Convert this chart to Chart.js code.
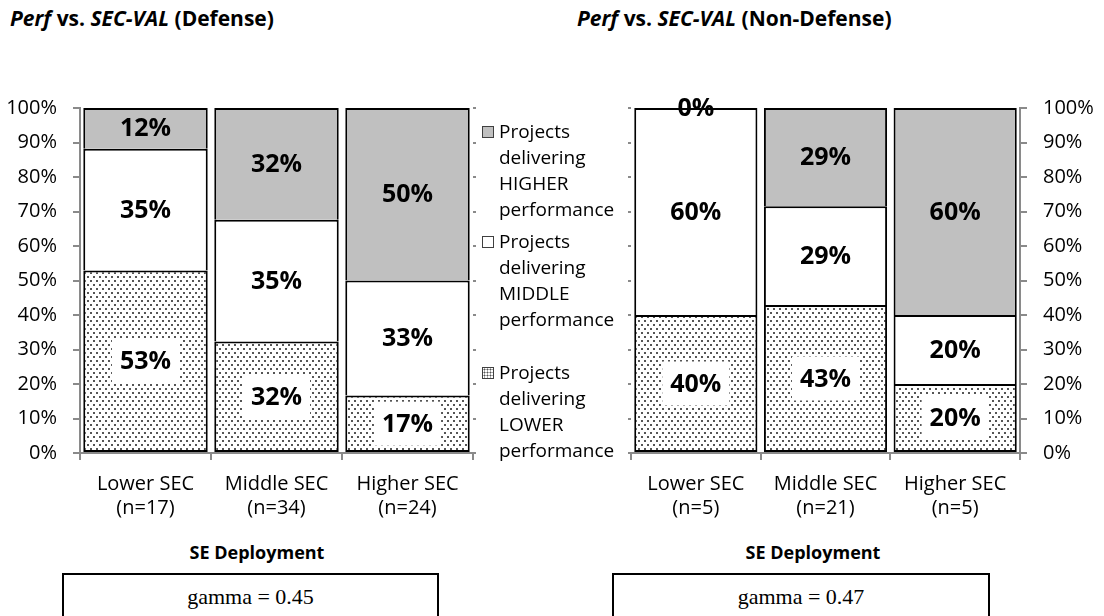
<!DOCTYPE html>
<html>
<head>
<meta charset="utf-8">
<script src="https://cdn.jsdelivr.net/npm/chart.js@4.4.1/dist/chart.umd.min.js"></script>
<style>
  body { margin: 0; background: #fff; }
  #wrap { position: relative; width: 1104px; height: 616px; overflow: hidden; font-family: 'Open Sans', sans-serif; color: #000; }
  canvas { position: absolute; top: 0; }
  .title { position: absolute; top: 5px; font-size: 21px; font-weight: bold; line-height: 26px; white-space: nowrap; }
  .legend { position: absolute; left: 499px; font-size: 19px; line-height: 26px; }
  .swatch { position: absolute; left: 482px; width: 10px; height: 10px; border: 1px solid #404040; }
  .xtitle { position: absolute; top: 540px; width: 200px; text-align: center; font-size: 18px; font-weight: bold; line-height: 24px; }
  .gbox { position: absolute; top: 573px; height: 60px; border: 2px solid #000; text-align: center; font-family: 'Liberation Serif', serif; font-size: 22px; line-height: 24px; padding-top: 10px; box-sizing: border-box; }
</style>
</head>
<body>
<div id="wrap">
  <div class="title" style="left:10px"><i>Perf</i> vs. <i>SEC-VAL</i> (Defense)</div>
  <div class="title" style="left:577px"><i>Perf</i> vs. <i>SEC-VAL</i> (Non-Defense)</div>

  <canvas id="defChart" width="480" height="530" style="left:0"></canvas>
  <canvas id="nonChart" width="544" height="530" style="left:560px"></canvas>

  <div class="swatch" style="top:126px; background:#c0c0c0"></div>
  <div class="legend" style="top:118px" id="leg0"></div>
  <div class="swatch" style="top:236px; background:#fff"></div>
  <div class="legend" style="top:228px" id="leg1"></div>
  <div class="swatch" style="top:367px; background-color:#fff; background-image:radial-gradient(#555 0.9px, transparent 1.1px); background-size:3px 3px"></div>
  <div class="legend" style="top:359px" id="leg2"></div>

  <div class="xtitle" style="left:157px">SE Deployment</div>
  <div class="xtitle" style="left:713px">SE Deployment</div>

  <div class="gbox" style="left:62px; width:377px">gamma = 0.45</div>
  <div class="gbox" style="left:612px; width:378px">gamma = 0.47</div>
</div>

<script>
// categories
const defCategories = [['Lower SEC', '(n=17)'], ['Middle SEC', '(n=34)'], ['Higher SEC', '(n=24)']];
const nonCategories = [['Lower SEC', '(n=5)'], ['Middle SEC', '(n=21)'], ['Higher SEC', '(n=5)']];

// percent of projects (Defense)
const defLower = [52.9, 32.3, 16.7];
const defMiddle = [35.3, 35.3, 33.3];
const defHigher = [11.8, 32.4, 50.0];

// percent of projects (Non-Defense)
const nonLower = [40.0, 42.9, 20.0];
const nonMiddle = [60.0, 28.6, 20.0];
const nonHigher = [0.0, 28.5, 60.0];

// legend lines (top to bottom)
const legendHigher = ['Projects', 'delivering', 'HIGHER', 'performance'];
const legendMiddle = ['Projects', 'delivering', 'MIDDLE', 'performance'];
const legendLower = ['Projects', 'delivering', 'LOWER', 'performance'];

const yTickStep = 10;

document.getElementById('leg0').innerHTML = legendHigher.join('<br>');
document.getElementById('leg1').innerHTML = legendMiddle.join('<br>');
document.getElementById('leg2').innerHTML = legendLower.join('<br>');

Chart.defaults.font.family = "'Open Sans', sans-serif";
Chart.defaults.font.size = 20;
Chart.defaults.color = '#000';

// dotted fill like the excel pattern
function dotPattern() {
  const c = document.createElement('canvas');
  c.width = 6; c.height = 8;
  const g = c.getContext('2d');
  g.fillStyle = '#fff';
  g.fillRect(0, 0, 6, 8);
  g.fillStyle = '#555';
  g.fillRect(0, 0, 2, 2);
  g.fillRect(3, 4, 2, 2);
  return g.createPattern(c, 'repeat');
}

// value labels in the middle of each segment
const segmentLabels = {
  id: 'segmentLabels',
  afterDatasetsDraw(chart) {
    const ctx = chart.ctx;
    ctx.save();
    ctx.font = "bold 25px 'Open Sans', sans-serif";
    ctx.textAlign = 'center';
    ctx.textBaseline = 'middle';
    chart.data.datasets.forEach((ds, i) => {
      const meta = chart.getDatasetMeta(i);
      meta.data.forEach((bar, j) => {
        const txt = Math.round(ds.data[j]) + '%';
        const y = (bar.y + bar.base) / 2;
        if (i === 0) {
          const w = ctx.measureText(txt).width + 16;
          ctx.fillStyle = '#fff';
          ctx.fillRect(bar.x - w / 2, y - 22, w, 44);
        }
        ctx.fillStyle = '#000';
        ctx.fillText(txt, bar.x, y + 1);
      });
    });
    ctx.restore();
  }
};

const axisGray = '#8a8a8a';

function makeChart(id, labels, lower, middle, higher, yPos, pad) {
  const ctx = document.getElementById(id).getContext('2d');
  const pattern = dotPattern();
  return new Chart(ctx, {
    type: 'bar',
    data: {
      labels: labels,
      datasets: [
        { label: 'Projects delivering LOWER performance', data: lower, backgroundColor: pattern,
          borderColor: '#000', borderWidth: 2, borderSkipped: false },
        { label: 'Projects delivering MIDDLE performance', data: middle, backgroundColor: '#fff',
          borderColor: '#000', borderWidth: 2 },
        { label: 'Projects delivering HIGHER performance', data: higher, backgroundColor: '#c0c0c0',
          borderColor: '#000', borderWidth: 2 }
      ]
    },
    options: {
      responsive: false,
      animation: false,
      devicePixelRatio: 1,
      layout: { padding: pad },
      datasets: { bar: { categoryPercentage: 1, barPercentage: 0.95 } },
      plugins: { legend: { display: false }, tooltip: { enabled: false } },
      scales: {
        x: {
          stacked: true,
          grid: { drawOnChartArea: false, drawTicks: true, tickLength: 7, color: axisGray, lineWidth: 2, offset: true },
          border: { color: axisGray, width: 2 },
          ticks: { padding: 12, maxRotation: 0, font: { size: 20, lineHeight: 1.2 } },
          afterFit: s => { s.height = 77; }
        },
        y: {
          stacked: true,
          position: yPos,
          min: 0,
          max: 100,
          grid: { drawOnChartArea: false, drawTicks: true, tickLength: 7, color: axisGray, lineWidth: 2 },
          border: { color: axisGray, width: 2 },
          ticks: { stepSize: yTickStep, padding: 16, callback: v => v + '%' },
          afterFit: s => { s.width = yPos === 'left' ? 80 : 84; }
        },
        y2: {
          position: yPos === 'left' ? 'right' : 'left',
          min: 0,
          max: 100,
          grid: { drawOnChartArea: false, drawTicks: true, tickLength: 3, color: axisGray, lineWidth: 2 },
          border: { display: false },
          ticks: { display: false, stepSize: yTickStep },
          afterFit: s => { s.width = 0; }
        }
      }
    },
    plugins: [segmentLabels]
  });
}

makeChart('defChart', defCategories, defLower, defMiddle, defHigher, 'left',
  { top: 108, right: 7, left: 0, bottom: 0 });
makeChart('nonChart', nonCategories, nonLower, nonMiddle, nonHigher, 'right',
  { top: 108, right: 0, left: 71, bottom: 0 });
</script>
</body>
</html>
